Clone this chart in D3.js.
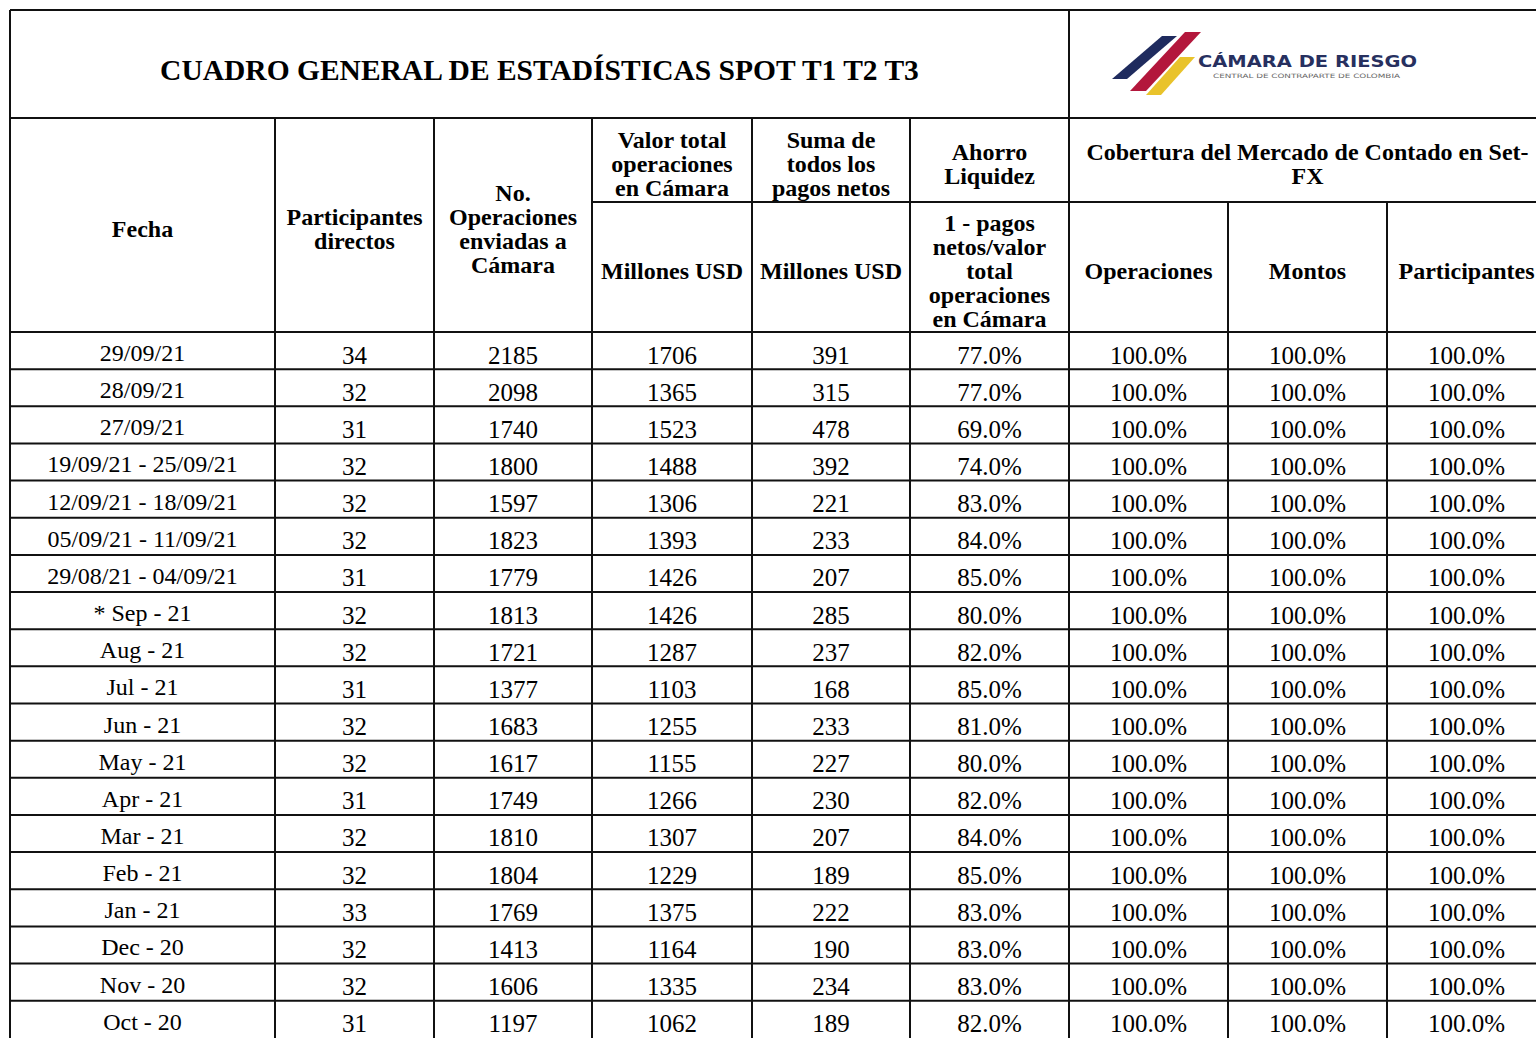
<!DOCTYPE html>
<html>
<head>
<meta charset="utf-8">
<script src="https://cdn.jsdelivr.net/npm/d3@7"></script>
<style>
  body { margin: 0; background: #fff; }
  svg { display: block; }
  text { font-family: "Liberation Serif", "Times New Roman", serif; fill: #000; }
</style>
</head>
<body>
<div id="vis"></div>
<script>
const fechas = ["29/09/21", "28/09/21", "27/09/21", "19/09/21 - 25/09/21", "12/09/21 - 18/09/21",
  "05/09/21 - 11/09/21", "29/08/21 - 04/09/21", "* Sep - 21", "Aug - 21", "Jul - 21", "Jun - 21",
  "May - 21", "Apr - 21", "Mar - 21", "Feb - 21", "Jan - 21", "Dec - 20", "Nov - 20", "Oct - 20"];
const participantes = [34, 32, 31, 32, 32, 32, 31, 32, 32, 31, 32, 32, 31, 32, 32, 33, 32, 32, 31];
const operaciones = [2185, 2098, 1740, 1800, 1597, 1823, 1779, 1813, 1721, 1377, 1683, 1617, 1749, 1810, 1804, 1769, 1413, 1606, 1197];
const valorTotal = [1706, 1365, 1523, 1488, 1306, 1393, 1426, 1426, 1287, 1103, 1255, 1155, 1266, 1307, 1229, 1375, 1164, 1335, 1062];
const pagosNetos = [391, 315, 478, 392, 221, 233, 207, 285, 237, 168, 233, 227, 230, 207, 189, 222, 190, 234, 189];
const ahorro = [77, 77, 69, 74, 83, 84, 85, 80, 82, 85, 81, 80, 82, 84, 85, 83, 83, 83, 82];
const cobOperaciones = [100, 100, 100, 100, 100, 100, 100, 100, 100, 100, 100, 100, 100, 100, 100, 100, 100, 100, 100];
const cobMontos = [100, 100, 100, 100, 100, 100, 100, 100, 100, 100, 100, 100, 100, 100, 100, 100, 100, 100, 100];
const cobParticipantes = [100, 100, 100, 100, 100, 100, 100, 100, 100, 100, 100, 100, 100, 100, 100, 100, 100, 100, 100];

const title = "CUADRO GENERAL DE ESTADÍSTICAS SPOT T1 T2 T3";
const colKeys = ["fecha", "part", "ops", "valor", "suma", "ahorro", "cobOps", "cobMontos", "cobPart"];

// layout
const width = 1536, height = 1038;
const leftX = 10, topY = 10;
const titleBottom = 118, headMid = 202, headBottom = 332, rowH = 37.15;
const colW = [265, 159, 158, 160, 158, 159, 159, 159, 159];
const edges = [leftX];
colW.forEach(w => edges.push(edges[edges.length - 1] + w));
const tableRight = edges[edges.length - 1];

const x = d3.scaleOrdinal().domain(colKeys).range(edges.slice(0, -1));
const xc = k => x(k) + colW[colKeys.indexOf(k)] / 2;
const y = d3.scaleBand().domain(d3.range(fechas.length))
  .range([headBottom, headBottom + rowH * fechas.length]);

const fmtPct = d3.format(".1f");
const rows = fechas.map((f, i) => ({
  fecha: f,
  part: participantes[i],
  ops: operaciones[i],
  valor: valorTotal[i],
  suma: pagosNetos[i],
  ahorro: fmtPct(ahorro[i]) + "%",
  cobOps: fmtPct(cobOperaciones[i]) + "%",
  cobMontos: fmtPct(cobMontos[i]) + "%",
  cobPart: fmtPct(cobParticipantes[i]) + "%"
}));

const svg = d3.select("#vis").append("svg")
  .attr("width", width)
  .attr("height", height);

// ---- header texts
const headers = [
  {key: "fecha", y0: titleBottom, y1: headBottom, lines: ["Fecha"]},
  {key: "part", y0: titleBottom, y1: headBottom, lines: ["Participantes", "directos"]},
  {key: "ops", y0: titleBottom, y1: headBottom, lines: ["No.", "Operaciones", "enviadas a", "Cámara"]},
  {key: "valor", y0: titleBottom, y1: headMid, lines: ["Valor total", "operaciones", "en Cámara"]},
  {key: "suma", y0: titleBottom, y1: headMid, lines: ["Suma de", "todos los", "pagos netos"]},
  {key: "ahorro", y0: titleBottom, y1: headMid, lines: ["Ahorro", "Liquidez"]},
  {key: "valor", y0: headMid, y1: headBottom, lines: ["Millones USD"]},
  {key: "suma", y0: headMid, y1: headBottom, lines: ["Millones USD"]},
  {key: "ahorro", y0: headMid, y1: headBottom, lines: ["1 - pagos", "netos/valor", "total", "operaciones", "en Cámara"]},
  {key: "cobOps", y0: headMid, y1: headBottom, lines: ["Operaciones"]},
  {key: "cobMontos", y0: headMid, y1: headBottom, lines: ["Montos"]},
  {key: "cobPart", y0: headMid, y1: headBottom, lines: ["Participantes"]},
  {cx: (edges[6] + tableRight) / 2, y0: titleBottom, y1: headMid, lines: ["Cobertura del Mercado de Contado en Set-", "FX"]}
];

const lh = 24;
const hg = svg.append("g").attr("font-weight", "bold").attr("font-size", 24);
headers.forEach(h => {
  const cx = h.cx != null ? h.cx : xc(h.key);
  const mid = (h.y0 + h.y1) / 2 + 12;
  const first = mid - (h.lines.length - 1) * lh / 2;
  const t = hg.append("text").attr("text-anchor", "middle");
  t.selectAll("tspan").data(h.lines).join("tspan")
    .attr("x", cx)
    .attr("y", (d, i) => first + i * lh)
    .text(d => d);
});

// title
svg.append("text")
  .attr("x", (leftX + edges[6]) / 2)
  .attr("y", 80)
  .attr("text-anchor", "middle")
  .attr("font-weight", "bold")
  .attr("font-size", 29.5)
  .text(title);

// ---- logo
const logo = svg.append("g");
const stripes = [
  {c: "#1f2b5e", p: [[1112, 79], [1127, 79], [1177, 36], [1162, 36]]},
  {c: "#b3173c", p: [[1130, 91], [1146, 91], [1201, 32], [1185, 32]]},
  {c: "#e9c32b", p: [[1146, 95], [1161, 95], [1195, 57], [1180, 57]]}
];
logo.selectAll("path").data(stripes).join("path")
  .attr("d", d => d3.line()(d.p) + "Z")
  .attr("fill", d => d.c);
logo.append("text")
  .attr("x", 1198).attr("y", 67)
  .style("font-family", "'DejaVu Sans', sans-serif")
  .style("font-weight", "bold")
  .style("font-size", "15px")
  .attr("textLength", 219)
  .attr("lengthAdjust", "spacingAndGlyphs")
  .style("fill", "#27305f")
  .text("CÁMARA DE RIESGO");
logo.append("text")
  .attr("x", 1213).attr("y", 78)
  .style("font-family", "'DejaVu Sans', sans-serif")
  .style("font-size", "6px")
  .attr("textLength", 187)
  .attr("lengthAdjust", "spacingAndGlyphs")
  .style("fill", "#666")
  .text("CENTRAL DE CONTRAPARTE DE COLOMBIA");

// ---- body cells
const body = svg.append("g");
colKeys.forEach(k => {
  body.append("g").selectAll("text")
    .data(rows)
    .join("text")
      .attr("x", xc(k))
      .attr("y", (d, i) => y(i) + (k === "fecha" ? 29 : 31.5))
      .attr("text-anchor", "middle")
      .attr("font-size", k === "fecha" ? 24 : 25)
      .text(d => d[k]);
});

// ---- grid lines
const g = svg.append("g").attr("stroke", "#111").attr("stroke-width", 2).attr("fill", "none");
const hLines = [
  {y: topY, x0: leftX, x1: width + 20},
  {y: titleBottom, x0: leftX, x1: width + 20},
  {y: headMid, x0: edges[3], x1: width + 20},
  {y: headBottom, x0: leftX, x1: width + 20}
];
// separators between rows (the table runs on past the bottom of the picture)
d3.range(1, fechas.length).forEach(i => hLines.push({y: y(i), x0: leftX, x1: width + 20}));
g.selectAll(".h").data(hLines).join("line")
  .attr("x1", d => d.x0).attr("x2", d => d.x1)
  .attr("y1", d => d.y).attr("y2", d => d.y);

const vLines = [
  {x: leftX, y0: topY, y1: height + 20},
  {x: edges[6], y0: topY, y1: height + 20}
];
[1, 2, 3, 4, 5].forEach(j => vLines.push({x: edges[j], y0: titleBottom, y1: height + 20}));
[7, 8, 9].forEach(j => vLines.push({x: edges[j], y0: headMid, y1: height + 20}));
g.selectAll(".v").data(vLines).join("line")
  .attr("x1", d => d.x).attr("x2", d => d.x)
  .attr("y1", d => d.y0).attr("y2", d => d.y1);
</script>
</body>
</html>
